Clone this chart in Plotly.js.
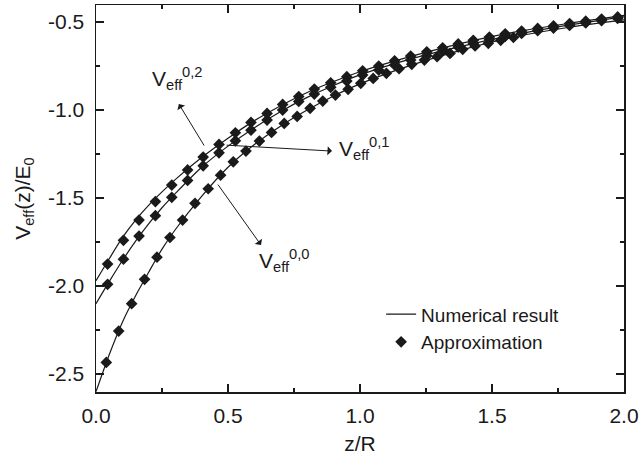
<!DOCTYPE html>
<html>
<head>
<meta charset="utf-8">
<script src="https://cdn.plot.ly/plotly-3.0.1.min.js"></script>
<style>html,body{margin:0;padding:0;background:#fff;}#chart{width:641px;height:464px;}</style>
</head>
<body>
<div id="chart"></div>
<script>
// Numerical result curves
const zLine = [0, 0.05, 0.1, 0.15, 0.2, 0.25, 0.3, 0.4, 0.5, 0.6, 0.7, 0.8, 0.9, 1.0, 1.2, 1.4, 1.6, 1.8, 2.0];
const line02 = [-1.97, -1.845, -1.725, -1.625, -1.54, -1.465, -1.395, -1.27, -1.16, -1.06, -0.975, -0.9, -0.838, -0.782, -0.692, -0.615, -0.553, -0.505, -0.462];
const line01 = [-2.10, -1.975, -1.855, -1.745, -1.645, -1.555, -1.475, -1.325, -1.205, -1.10, -1.008, -0.928, -0.86, -0.80, -0.706, -0.632, -0.568, -0.515, -0.47];
const line00 = [-2.60, -2.39, -2.205, -2.055, -1.92, -1.79, -1.68, -1.49, -1.325, -1.196, -1.09, -1.0, -0.92, -0.851, -0.742, -0.652, -0.58, -0.528, -0.488];

// Approximation points
const zPts12 = [0.044, 0.104, 0.163, 0.225, 0.287, 0.347, 0.406, 0.466, 0.528, 0.587, 0.648, 0.707, 0.768, 0.827, 0.889, 0.95, 1.01, 1.071, 1.131, 1.192, 1.253, 1.313, 1.372, 1.429, 1.49, 1.55, 1.612, 1.673, 1.733, 1.794, 1.855, 1.915, 1.976];
const pts02 = [-1.875, -1.74, -1.625, -1.52, -1.426, -1.34, -1.267, -1.195, -1.129, -1.07, -1.019, -0.968, -0.923, -0.881, -0.845, -0.81, -0.777, -0.75, -0.72, -0.693, -0.669, -0.646, -0.624, -0.604, -0.585, -0.567, -0.551, -0.536, -0.522, -0.508, -0.495, -0.483, -0.471];
const pts01 = [-1.99, -1.847, -1.716, -1.60, -1.496, -1.40, -1.317, -1.243, -1.175, -1.114, -1.057, -1.0, -0.951, -0.909, -0.871, -0.835, -0.801, -0.773, -0.744, -0.716, -0.691, -0.665, -0.642, -0.62, -0.6, -0.582, -0.565, -0.549, -0.534, -0.519, -0.505, -0.492, -0.479];
const zPts0 = [0.039, 0.086, 0.135, 0.184, 0.231, 0.28, 0.328, 0.375, 0.425, 0.472, 0.52, 0.568, 0.619, 0.665, 0.713, 0.762, 0.811, 0.859, 0.907, 0.955, 1.003, 1.05, 1.1, 1.148, 1.196, 1.244, 1.292, 1.341, 1.389, 1.436, 1.486, 1.533, 1.581];
const pts00 = [-2.434, -2.256, -2.10, -1.962, -1.836, -1.724, -1.625, -1.53, -1.447, -1.37, -1.294, -1.233, -1.176, -1.127, -1.076, -1.036, -0.99, -0.949, -0.915, -0.882, -0.848, -0.82, -0.791, -0.765, -0.74, -0.716, -0.697, -0.678, -0.655, -0.636, -0.621, -0.604, -0.587];

// Tick labels
const xTickVals = [0, 0.5, 1.0, 1.5, 2.0];
const xTickText = ["0.0", "0.5", "1.0", "1.5", "2.0"];
const yTickVals = [-2.5, -2.0, -1.5, -1.0, -0.5];
const yTickText = ["-2.5", "-2.0", "-1.5", "-1.0", "-0.5"];
const legendNames = ["Numerical result", "Approximation"];

const ink = '#1a1a1a';
const FONT = '"Liberation Sans", Arial, sans-serif';

function lineTrace(y, show) {
  return {x: zLine, y: y, mode: 'lines', type: 'scatter', name: legendNames[0],
    showlegend: show, line: {color: ink, width: 1.2, shape: 'spline', smoothing: 0.8}};
}
function ptTrace(x, y, show) {
  return {x: x, y: y, mode: 'markers', type: 'scatter', name: legendNames[1],
    showlegend: show, marker: {symbol: 'diamond', size: 9, color: ink, line: {width: 0}}};
}

const data = [
  lineTrace(line02, true), lineTrace(line01, false), lineTrace(line00, false),
  ptTrace(zPts12, pts02, true), ptTrace(zPts12, pts01, false), ptTrace(zPts0, pts00, false)
];

const axisCommon = {
  showgrid: false, zeroline: false, showline: true, linecolor: ink, linewidth: 1.5,
  mirror: 'allticks', ticks: 'inside', ticklen: 8, tickwidth: 1.2, tickcolor: ink,
  tickfont: {family: FONT, size: 21, color: ink},
  minor: {ticks: 'inside', ticklen: 4, tickwidth: 1.2, tickcolor: ink, dtick: 0.25}
};

function arrow(x, y, ax, ay) {
  return {x: x, y: y, ax: ax, ay: ay, xref: 'x', yref: 'y', axref: 'x', ayref: 'y',
    text: '', showarrow: true, arrowhead: 1, arrowsize: 1.5, arrowwidth: 1, arrowcolor: ink, standoff: 0, startstandoff: 0};
}
function label(x, y, sup) {
  return {x: x, y: y, xref: 'x', yref: 'y', xanchor: 'left', yanchor: 'middle', showarrow: false,
    text: 'V<sub>eff</sub><sup>' + sup + '</sup>', font: {family: FONT, size: 21, color: ink}};
}

const layout = {
  width: 641, height: 464,
  margin: {l: 96, r: 17, t: 5, b: 72},
  paper_bgcolor: '#fff', plot_bgcolor: '#fff',
  font: {family: FONT, color: ink},
  showlegend: true,
  legend: {x: 0.54, y: 0.25, xanchor: 'left', yanchor: 'top', bgcolor: 'rgba(0,0,0,0)',
    font: {family: FONT, size: 19, color: ink}, tracegroupgap: 0},
  xaxis: Object.assign({}, axisCommon, {range: [0, 2.0], tickvals: xTickVals, ticktext: xTickText,
    ticklabelstandoff: 4,
    title: {text: 'z/R', font: {family: FONT, size: 21, color: ink}, standoff: 10}}),
  yaxis: Object.assign({}, axisCommon, {range: [-2.602, -0.403], tickvals: yTickVals, ticktext: yTickText,
    ticklabelstandoff: 6,
    title: {text: 'V<sub>eff</sub>(z)/E<sub>0</sub>', font: {family: FONT, size: 21, color: ink}, standoff: 12}}),
  annotations: [
    arrow(0.314, -0.966, 0.413, -1.21),
    arrow(0.894, -1.233, 0.489, -1.199),
    arrow(0.625, -1.767, 0.458, -1.415),
    label(0.205, -0.818, '0,2'),
    label(0.913, -1.216, '0,1'),
    label(0.61, -1.852, '0,0')
  ]
};

Plotly.newPlot('chart', data, layout, {displayModeBar: false, staticPlot: true});
</script>
</body>
</html>
